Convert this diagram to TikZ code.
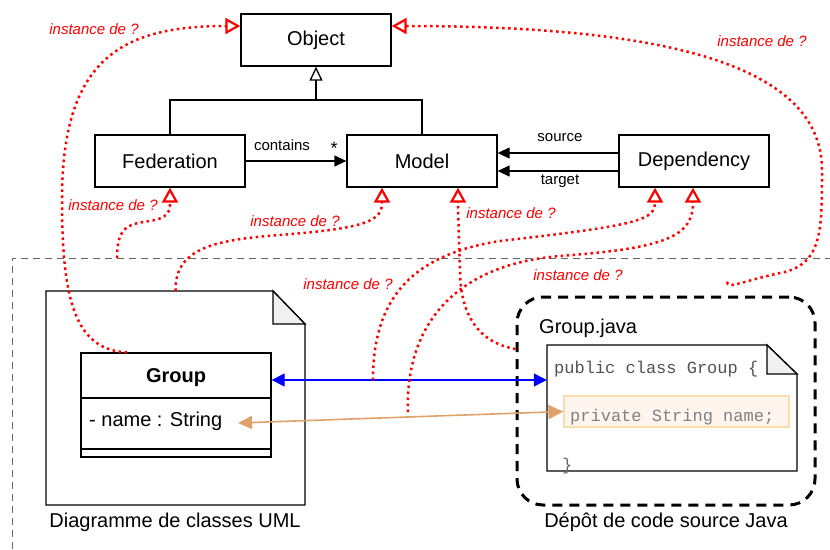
\documentclass[tikz,border=0pt]{standalone}
\usepackage{fontspec}
\setmainfont{Liberation Sans}
\setmonofont{Liberation Mono}
\usetikzlibrary{arrows.meta,calc}
\definecolor{orangeln}{RGB}{224,162,105}
\definecolor{hlfill}{RGB}{255,245,238}
\definecolor{hldraw}{RGB}{248,220,170}
\definecolor{foldgray}{RGB}{240,240,240}
\begin{document}
\begin{tikzpicture}[x=1pt,y=-1pt,
  cls/.style={draw, line width=1.3pt, fill=white, minimum width=150pt, minimum height=52pt, inner sep=0pt, font=\fontsize{20}{24}\selectfont},
  lbl/.style={font=\fontsize{15}{18}\selectfont, inner sep=0pt},
  ilbl/.style={font=\fontsize{15}{18}\selectfont\itshape, text=red, inner sep=0pt},
  big/.style={font=\fontsize{20}{24}\selectfont, inner sep=0pt},
  mono/.style={font=\fontsize{17}{20}\ttfamily, inner sep=0pt},
  inst/.style={red, line width=2.5pt, dash pattern=on 2.5pt off 3.5pt, -{Triangle[open,length=15pt,width=16pt,line width=2.2pt]}},
  docln/.style={draw, line width=1.3pt, fill=white},
  blk/.style={line width=1.3pt, -{Triangle[length=12pt,width=11pt]}}
]
\useasboundingbox (0,0) rectangle (830,549);
\fill[white] (0,0) rectangle (830,549);

% gray dashed boundary
\draw[gray!80!black, line width=1pt, dash pattern=on 7pt off 5pt] (12,549) -- (12,258) -- (832,258);

% UML classes
\node[cls] (obj) at (316,40) {Object};
\node[cls] (fed) at (170,161) {Federation};
\node[cls] (model) at (422,161) {Model};
\node[cls] (dep) at (694,161) {Dependency};

\coordinate (hj) at (316,100);
\draw[line width=1.3pt] (fed.north) |- (hj) -| (model.north);
\draw[line width=1.3pt, -{Triangle[open,length=14pt,width=13pt,line width=1.3pt]}] (hj) -- (obj.south);

\draw[blk] (fed.east) -- (model.west);
\node[lbl] (contains) at (282,145) {contains};
\node[lbl, font=\fontsize{18}{18}\selectfont] (star) at (334,148) {*};

\draw[blk] ($(dep.west)+(0,-8)$) -- ($(model.east)+(0,-8)$);
\draw[blk] ($(dep.west)+(0,10)$) -- ($(model.east)+(0,10)$);
\node[lbl] (src) at (560,138) {source};
\node[lbl] (tgt) at (560,181) {target};

% UML document
\path node[minimum width=259pt, minimum height=214pt, inner sep=0pt] (umldoc) at (175.5,398) {};
\draw[docln] (46,291) -- (273,291) -- (305,324) -- (305,505) -- (46,505) -- cycle;
\draw[line width=1.3pt, fill=foldgray] (273,291) -- (273,324) -- (305,324) -- cycle;
\node[big] (umllbl) at (175,522) {Diagramme de classes UML};

% Group class
\node[draw, line width=1.3pt, fill=white, minimum width=190pt, minimum height=45pt, inner sep=0pt] (grouphead) at (176,375.5) {};
\node[big, font=\fontsize{20}{24}\selectfont\bfseries] (groupname) at (176,378) {Group};
\node[draw, line width=1.3pt, fill=white, minimum width=190pt, minimum height=51pt, inner sep=0pt] (groupattr) at (176,423.5) {};
\node[draw, line width=1.3pt, fill=white, minimum width=190pt, minimum height=8pt, inner sep=0pt] (groupops) at (176,453) {};
\node[big, anchor=west] (attr) at (89,421) {- name : String};
\coordinate (attrend) at (238,423);

% Java repository
\node[draw, line width=3pt, dash pattern=on 10pt off 7pt, rounded corners=26pt, minimum width=298pt, minimum height=208pt] (repo) at (666,401) {};
\node[big, anchor=west] (gjava) at (539,328) {Group.java};
\path node[minimum width=250pt, minimum height=126pt, inner sep=0pt] (jdoc) at (672,408) {};
\draw[docln] (547,345) -- (767,345) -- (797,374) -- (797,471) -- (547,471) -- cycle;
\draw[line width=1.3pt, fill=foldgray] (767,345) -- (767,374) -- (797,374) -- cycle;
\node[mono, anchor=west, text=black!68] (l1) at (554,369) {public class Group \{};
\node[draw=hldraw, fill=hlfill, line width=1.2pt, minimum width=225pt, minimum height=31pt, inner sep=0pt] (hl) at (676.5,411.5) {};
\node[mono, anchor=west, text=black!50] (l2) at (570,417) {private String name;};
\node[mono, anchor=west, text=black!60] (l3) at (562,466) {\}};
\node[big] (repolbl) at (666,522) {Dépôt de code source Java};

% blue and orange links
\draw[blue, line width=1.3pt, {Triangle[length=13pt,width=13pt]}-{Triangle[length=13pt,width=13pt]}] ($(grouphead.east)+(0,4.5)$) -- ($(jdoc.west)+(0,-28)$);
\draw[orangeln, line width=1.6pt, {Triangle[length=14pt,width=13pt]}-{Triangle[length=15pt,width=14pt]}] (attrend) -- (hl.west);

% instance-of links
\draw[inst] ($(grouphead.north)+(-49,0)$) .. controls (75,350) and (62,300) .. (62,200) .. controls (62,60) and (120,26) .. ($(obj.west)+(0,-14)$);
\node[ilbl] (i1) at (94,29) {instance de ?};

\draw[inst] ($(jdoc.north)+(55,-63)$) .. controls (727,290) and (745,280) .. (785,272) .. controls (822,262) and (822,230) .. (822,170) .. controls (822,60) and (650,26) .. ($(obj.east)+(0,-14)$);
\node[ilbl] (i2) at (762,41) {instance de ?};

\coordinate (b1) at (117,258);
\draw[inst] (b1) .. controls (117,225) and (130,224) .. (150,221) .. controls (168,218) and (170,212) .. (fed.south);
\node[ilbl] (i3) at (113,205) {instance de ?};

\draw[inst] (umldoc.north) .. controls (175,250) and (210,240) .. (280,235) .. controls (370,228) and (382,220) .. ($(model.south)+(-40,0)$);
\node[ilbl] (i4) at (295,221) {instance de ?};

\draw[inst] ($(repo.west)+(0,-52)$) .. controls (475,342) and (460,310) .. (460,270) .. controls (459,240) and (458,210) .. ($(model.south)+(36,0)$);
\node[ilbl] (i5) at (511,213) {instance de ?};

\coordinate (c6) at (373,380);
\draw[inst] (c6) .. controls (373,300) and (410,255) .. (500,241) .. controls (640,225) and (655,220) .. ($(dep.south)+(-39,0)$);
\node[ilbl] (i6) at (348,284) {instance de ?};

\coordinate (c7) at (408,412);
\draw[inst] (c7) .. controls (405,330) and (450,265) .. (560,256) .. controls (670,248) and (693,235) .. ($(dep.south)+(-1,0)$);
\node[ilbl] (i7) at (578,275) {instance de ?};
\end{tikzpicture}
\end{document}
